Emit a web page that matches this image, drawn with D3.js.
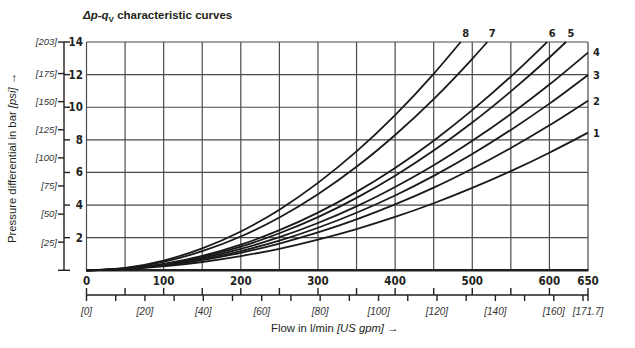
<!DOCTYPE html>
<html>
<head>
<meta charset="utf-8">
<script src="https://cdn.jsdelivr.net/npm/d3@7"></script>
<style>
  html, body { margin: 0; padding: 0; background: #fff; }
  svg { display: block; }
  .num { font-family: "Liberation Sans Narrow", "DejaVu Sans Condensed", "Roboto", sans-serif; font-stretch: condensed; font-weight: bold; }
  .sans { font-family: "Liberation Sans", Arial, sans-serif; }
</style>
</head>
<body>
<svg id="chart" width="635" height="348"></svg>
<script>
// Flow grid (l/min) at which the curves are tabulated
const flowLpm = [0, 50, 100, 150, 200, 250, 300, 350, 400, 450, 500, 550, 600, 650];

// Pressure differential (bar) for each characteristic curve
const curve1 = [0, 0.07, 0.24, 0.51, 0.87, 1.32, 1.88, 2.53, 3.27, 4.11, 5.05, 6.08, 7.21, 8.44];
const curve2 = [0, 0.09, 0.30, 0.63, 1.07, 1.64, 2.32, 3.12, 4.04, 5.07, 6.23, 7.50, 8.89, 10.40];
const curve3 = [0, 0.09, 0.31, 0.68, 1.18, 1.82, 2.61, 3.53, 4.59, 5.79, 7.13, 8.61, 10.22, 11.98];
const curve4 = [0, 0.09, 0.34, 0.75, 1.31, 2.03, 2.90, 3.92, 5.11, 6.44, 7.94, 9.59, 11.39, 13.35];
const curve5 = [0, 0.09, 0.36, 0.82, 1.45, 2.27, 3.26, 4.44, 5.80, 7.34, 9.06, 10.97, 13.05];
const curve6 = [0, 0.10, 0.39, 0.88, 1.57, 2.46, 3.54, 4.81, 6.28, 7.95, 9.82, 11.88];
const curve7 = [0, 0.13, 0.52, 1.17, 2.07, 3.24, 4.67, 6.35, 8.30, 10.50, 12.97];
const curve8 = [0, 0.15, 0.60, 1.34, 2.38, 3.72, 5.36, 7.29, 9.52, 12.05];

// Flow (l/min) where curves 5–8 leave the chart at 14 bar
const exitFlow5to8 = [621.5, 597, 519.5, 485];

// Axis ticks
const barTicks = [2, 4, 6, 8, 10, 12, 14];
const psiTicks = [25, 50, 75, 100, 125, 150, 175, 203];
const flowLabels = [0, 100, 200, 300, 400, 500, 600, 650];
const gpmLabels = [0, 20, 40, 60, 80, 100, 120, 140, 160, 171.7];

const BAR_PER_PSI = 1 / 14.5038;
const LPM_PER_GPM = 3.78541;
const ink = "#231f20";

const svg = d3.select("#chart");
const x = d3.scaleLinear().domain([0, 650]).range([86.5, 588]);
const y = d3.scaleLinear().domain([0, 14]).range([270.3, 42]);
const xg = d3.scaleLinear().domain([0, 650 / LPM_PER_GPM]).range([x(0), x(650)]);

// Grid
const grid = svg.append("g").attr("stroke", "#4a4a4a").attr("stroke-width", 1.2).attr("fill", "none");
grid.selectAll("line.v").data(d3.range(0, 651, 50)).join("line")
  .attr("x1", d => x(d)).attr("x2", d => x(d)).attr("y1", y(0)).attr("y2", y(14));
grid.selectAll("line.h").data(barTicks).join("line")
  .attr("x1", x(0)).attr("x2", x(650)).attr("y1", d => y(d)).attr("y2", d => y(d));
// Heavy base line
svg.append("line").attr("x1", x(0) - 0.5).attr("x2", x(650) + 0.5).attr("y1", y(0)).attr("y2", y(0))
  .attr("stroke", ink).attr("stroke-width", 2.4);

// Curves
const lowCurves = [curve1, curve2, curve3, curve4];
const highCurves = [curve5, curve6, curve7, curve8];
const series = [];
lowCurves.forEach((vals, i) => {
  series.push({ id: i + 1, pts: vals.map((v, j) => [flowLpm[j], v]) });
});
highCurves.forEach((vals, i) => {
  const pts = vals.map((v, j) => [flowLpm[j], v]);
  pts.push([exitFlow5to8[i], 14]);
  series.push({ id: i + 5, pts });
});

const line = d3.line().x(d => x(d[0])).y(d => y(d[1])).curve(d3.curveMonotoneX);
svg.append("g").selectAll("path").data(series).join("path")
  .attr("d", d => line(d.pts))
  .attr("fill", "none").attr("stroke", "#1a1a1a").attr("stroke-width", 1.8);

// Curve numbers
const labels = svg.append("g").attr("class", "num").attr("font-size", 11).attr("fill", ink);
series.forEach(s => {
  const last = s.pts[s.pts.length - 1];
  if (s.id <= 4) {
    labels.append("text").attr("x", x(650) + 5).attr("y", y(last[1])).attr("dy", "0.35em").text(s.id);
  } else {
    labels.append("text").attr("x", x(last[0]) + 5).attr("y", 33).attr("dy", "0.35em")
      .attr("text-anchor", "middle").text(s.id);
  }
});

// Left double axis (bar / psi)
const axL = 64;
const la = svg.append("g").attr("stroke", ink).attr("stroke-width", 1.4);
la.append("line").attr("x1", axL).attr("x2", axL).attr("y1", y(14)).attr("y2", y(0));
la.selectAll("line.b").data([0].concat(barTicks)).join("line")
  .attr("x1", axL).attr("x2", axL + 6).attr("y1", d => y(d)).attr("y2", d => y(d));
la.selectAll("line.p").data([0].concat(psiTicks)).join("line")
  .attr("x1", axL - 6).attr("x2", axL).attr("y1", d => y(d * BAR_PER_PSI)).attr("y2", d => y(d * BAR_PER_PSI));

svg.append("g").attr("class", "num").attr("font-size", 11.5).attr("fill", ink).attr("text-anchor", "end")
  .selectAll("text").data(barTicks).join("text")
  .attr("x", 83).attr("y", d => y(d)).attr("dy", "0.35em").text(d => d);
svg.append("g").attr("class", "sans").attr("font-size", 9.5).attr("font-style", "italic").attr("fill", "#333")
  .attr("text-anchor", "end")
  .selectAll("text").data(psiTicks).join("text")
  .attr("x", 57).attr("y", d => y(d * BAR_PER_PSI)).attr("dy", "0.35em").text(d => "[" + d + "]");

// Bottom double axis (l/min / US gpm)
const axB = 295;
const ba = svg.append("g").attr("stroke", ink).attr("stroke-width", 1.4);
ba.append("line").attr("x1", x(0)).attr("x2", x(650)).attr("y1", axB).attr("y2", axB);
ba.selectAll("line.l").data(d3.range(0, 651, 50)).join("line")
  .attr("x1", d => x(d)).attr("x2", d => x(d)).attr("y1", axB - 7).attr("y2", axB);
ba.selectAll("line.g").data(d3.range(0, 171, 10).concat([171.7])).join("line")
  .attr("x1", d => xg(d)).attr("x2", d => xg(d)).attr("y1", axB).attr("y2", axB + 6);

svg.append("g").attr("class", "num").attr("font-size", 11.5).attr("fill", ink).attr("text-anchor", "middle")
  .selectAll("text").data(flowLabels).join("text")
  .attr("x", d => x(d)).attr("y", 281).attr("dy", "0.35em").text(d => d);
svg.append("g").attr("class", "sans").attr("font-size", 10).attr("font-style", "italic").attr("fill", "#333")
  .attr("text-anchor", "middle")
  .selectAll("text").data(gpmLabels).join("text")
  .attr("x", d => xg(d)).attr("y", 311).attr("dy", "0.35em").text(d => "[" + d + "]");

// Title
const title = svg.append("text").attr("class", "sans").attr("x", 83).attr("y", 19)
  .attr("font-size", 11.5).attr("font-weight", "bold").attr("fill", ink);
title.append("tspan").attr("font-style", "italic").text("Δp-q");
title.append("tspan").attr("font-size", 8).attr("dy", 2.5).text("V");
title.append("tspan").attr("dy", -2.5).text(" characteristic curves");

// Axis titles
const yt = svg.append("text").attr("class", "sans").attr("font-size", 11.3).attr("fill", ink)
  .attr("text-anchor", "middle").attr("transform", "translate(16,158) rotate(-90)");
yt.append("tspan").text("Pressure differential in bar ");
yt.append("tspan").attr("font-style", "italic").text("[psi]");
yt.append("tspan").text(" →");

const xt = svg.append("text").attr("class", "sans").attr("font-size", 11.3).attr("fill", ink)
  .attr("x", 271).attr("y", 332);
xt.append("tspan").text("Flow in l/min ");
xt.append("tspan").attr("font-style", "italic").text("[US gpm]");
xt.append("tspan").text(" →");
</script>
</body>
</html>
